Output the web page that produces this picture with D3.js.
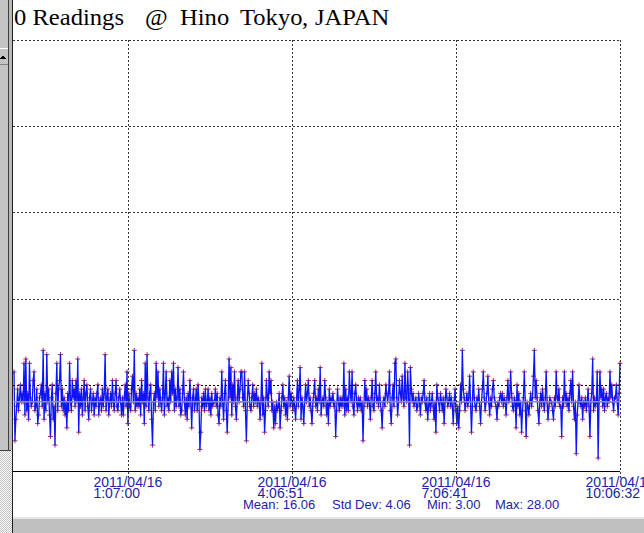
<!DOCTYPE html>
<html>
<head>
<meta charset="utf-8">
<script src="https://cdn.jsdelivr.net/npm/d3@7"></script>
<style>
  html, body { margin: 0; padding: 0; background: #ffffff; overflow: hidden; }
  svg { display: block; }
  .title text { font-family: "Liberation Serif", "Times New Roman", "DejaVu Serif", serif; font-size: 23px; fill: #000; }
  .axislab text, .stats text { font-family: "Liberation Sans", Arial, sans-serif; fill: #1e22a8; }
</style>
</head>
<body>
<svg id="chart" width="644" height="533"></svg>
<script>
// ---- data -------------------------------------------------------------
const titleParts = ["0 Readings", "@", "Hino", "Tokyo", ",", "JAPAN"];

// first reading time and logging interval (seconds)
const readingStart = "2011/04/15 23:02:07";
const readingIntervalSec = 59.948;

// counts per minute, one value per reading
const cpm = [
  23,7,12,15,19,14,17,20,16,18, 16,25,13,26,14,18,12,25,17,15,
  16,21,23,14,15,19,11,13,17,18, 20,15,28,12,18,14,27,16,19,13,
  8,17,20,12,15,6,18,25,14,19, 21,27,15,19,14,17,13,16,10,18,
  14,25,16,14,21,17,19,15,21,16, 26,9,18,15,19,13,17,21,14,18,
  20,15,12,17,19,14,16,18,13,17, 15,18,20,13,16,17,14,19,15,18,
  27,14,17,19,13,16,18,15,21,16, 14,18,21,15,14,17,19,16,13,17,
  13,17,20,15,23,11,18,15,14,19, 22,16,28,14,18,15,17,15,19,13,
  21,16,18,11,25,15,27,17,14,18, 20,12,6,16,18,14,25,17,23,15,
  19,16,14,17,25,13,18,23,15,17, 14,21,16,23,18,25,14,19,15,17,
  24,15,19,13,14,18,23,16,13,17, 12,18,15,21,16,10,17,19,14,16,
  19,14,20,16,5,9,17,15,18,14, 19,15,16,19,14,17,13,18,15,16,
  16,19,15,18,13,11,17,15,23,16, 12,18,21,14,9,16,26,17,24,13,
  20,16,23,15,12,17,21,16,19,23, 23,17,15,23,14,7,16,21,18,15,
  14,17,20,15,18,16,19,15,17,16, 12,16,25,13,17,9,14,21,17,15,
  23,18,21,14,16,10,15,11,16,14, 15,18,10,14,17,20,15,17,13,16,
  12,17,22,15,18,16,14,17,15,12, 16,21,15,19,24,12,17,15,11,16,
  20,16,18,21,15,17,14,11,16,18, 21,15,17,14,19,16,24,13,16,17,
  15,21,17,13,16,11,19,15,17,16, 18,15,16,8,14,19,16,14,17,15,
  17,15,25,13,19,14,17,14,23,18, 16,23,15,13,18,20,16,14,17,15,
  17,14,16,7,15,21,16,19,15,17, 16,12,17,21,15,14,18,23,16,17,
  15,20,16,14,10,16,17,15,20,18, 16,18,23,14,11,17,20,15,25,26,
  17,13,16,21,18,16,22,17,15,25, 17,16,23,18,6,24,19,16,18,15,
  16,17,14,15,18,16,13,17,16,18, 21,16,14,17,12,15,18,14,16,18,
  15,12,16,9,20,17,16,14,18,16, 14,17,11,16,19,17,15,16,18,15,
  17,15,11,16,19,14,11,15,10,14, 20,16,28,19,17,14,16,18,15,17,
  22,16,9,15,23,17,15,14,17,16, 19,15,11,16,19,23,17,14,16,18,
  22,16,13,17,15,19,21,17,16,15, 12,16,15,17,18,16,18,15,17,16,
  13,17,21,16,17,23,18,15,14,17, 16,10,20,15,18,13,16,9,14,17,
  23,16,8,16,15,13,16,18,15,17, 22,28,17,21,17,14,11,16,18,15,
  19,16,14,17,23,16,12,15,17,16, 16,14,12,17,15,23,17,16,19,15,
  15,8,17,15,23,16,18,15,17,14, 18,21,16,23,15,12,16,4,13,16,
  20,16,15,17,12,16,15,17,14,16, 19,15,8,16,18,26,14,17,15,16,
  23,3,16,23,17,19,15,19,14,17, 18,15,17,16,23,17,20,16,14,17,
  17,20,16,13,18,25
];

const tickDates = ["2011/04/16", "2011/04/16", "2011/04/16", "2011/04/16"];
const tickTimes = ["1:07:00", "4:06:51", "7:06:41", "10:06:32"];
const yTicks = [0, 20, 40, 60, 80, 100];

const statNames = ["Mean:", "Std Dev:", "Min:", "Max:"];
const statValues = [16.06, 4.06, 3.00, 28.00];

// ---- layout -----------------------------------------------------------
const svg = d3.select("#chart");
const W = 644, H = 533;
const plot = { left: 14, right: 620, top: 40, bottom: 471 };

const parse = d3.timeParse("%Y/%m/%d %H:%M:%S");
const t0 = parse(readingStart);
const timeAt = i => new Date(t0.getTime() + i * readingIntervalSec * 1000);
const readings = cpm.map((v, i) => ({ t: timeAt(i), v }));

const x = d3.scaleTime()
  .domain([readings[0].t, readings[readings.length - 1].t])
  .range([plot.left, plot.right]);
const y = d3.scaleLinear().domain([0, 100]).range([plot.bottom, plot.top]);

const ticks = tickDates.map((d, i) => ({ date: d, time: tickTimes[i], t: parse(d + " " + tickTimes[i]) }));

svg.append("rect").attr("width", W).attr("height", H).attr("fill", "#ffffff");

// ---- readings: markers first, trace on top ---------------------------------
svg.append("g")
  .selectAll("path")
  .data(readings)
  .join("path")
  .attr("d", d => {
    const px = x(d.t), py = y(d.v);
    return `M${px - 2.5},${py}h5M${px},${py - 2.5}v5`;
  })
  .attr("stroke", "#a52a62")
  .attr("stroke-width", 1);

const line = d3.line().x(d => x(d.t)).y(d => y(d.v));
svg.append("path")
  .datum(readings)
  .attr("d", line)
  .attr("fill", "none")
  .attr("stroke", "#0a14ff")
  .attr("stroke-width", 1.3);

// ---- mean line ------------------------------------------------------------
svg.append("line")
  .attr("x1", plot.left).attr("x2", plot.right)
  .attr("y1", y(statValues[0])).attr("y2", y(statValues[0]))
  .attr("stroke", "#8a93b3").attr("stroke-width", 1.6);

// ---- grid (drawn over the trace) -------------------------------------------
const grid = svg.append("g").attr("shape-rendering", "crispEdges");
grid.selectAll("line.h")
  .data(yTicks.filter(d => d > 0))
  .join("line")
  .attr("class", "h")
  .attr("x1", plot.left - 1).attr("x2", plot.right)
  .attr("y1", d => Math.round(y(d)) + 0.5).attr("y2", d => Math.round(y(d)) + 0.5)
  .attr("stroke", d => d === 20 ? "#000000" : "#333333")
  .attr("stroke-width", 1)
  .attr("stroke-dasharray", "2,2");

grid.selectAll("line.v")
  .data(ticks)
  .join("line")
  .attr("class", "v")
  .attr("x1", d => Math.round(x(d.t)) + 0.5).attr("x2", d => Math.round(x(d.t)) + 0.5)
  .attr("y1", plot.top).attr("y2", plot.bottom + 7)
  .attr("stroke", "#333333")
  .attr("stroke-dasharray", "2,2");

// ---- x axis ---------------------------------------------------------------
svg.append("line")
  .attr("x1", plot.left - 1).attr("x2", plot.right)
  .attr("y1", plot.bottom + 0.5).attr("y2", plot.bottom + 0.5)
  .attr("stroke", "#000000").attr("shape-rendering", "crispEdges");

const lab = svg.append("g").attr("class", "axislab").style("font-size", "14px");
ticks.forEach(d => {
  const tx = x(d.t);
  const g = lab.append("g");
  const first = g.append("text").attr("y", 487).text(d.date);
  const w = first.node().getComputedTextLength();
  first.attr("x", tx - w / 2);
  g.append("text").attr("x", tx - w / 2).attr("y", 497.5).text(d.time);
});

// summary statistics
const statX = [243, 332, 427, 495];
const stats = svg.append("g").attr("class", "stats").style("font-size", "13px");
statNames.forEach((n, i) => {
  stats.append("text").attr("x", statX[i]).attr("y", 508.5)
    .text(n + " " + statValues[i].toFixed(2));
});

// ---- title (slightly widened serif face) -----------------------------------
const titleX = [14, 145, 180, 240, 302, 315];
const title = svg.append("g").attr("class", "title");
titleParts.forEach((p, i) => {
  title.append("text")
    .attr("transform", `translate(${titleX[i]},25) scale(1.07,1)`)
    .text(p);
});

// ---- window frame: side pane and status strip ------------------------------
const defs = svg.append("defs");
const pat = defs.append("pattern").attr("id", "dither")
  .attr("width", 2).attr("height", 2).attr("patternUnits", "userSpaceOnUse");
pat.append("rect").attr("width", 2).attr("height", 2).attr("fill", "#ffffff");
pat.append("rect").attr("width", 1).attr("height", 1).attr("fill", "#c0c0c0");
pat.append("rect").attr("x", 1).attr("y", 1).attr("width", 1).attr("height", 1).attr("fill", "#c0c0c0");

const frame = svg.append("g").attr("shape-rendering", "crispEdges");
frame.append("rect").attr("x", 0).attr("y", 0).attr("width", 13).attr("height", H).attr("fill", "url(#dither)");
frame.append("rect").attr("x", 0).attr("y", 0).attr("width", 11).attr("height", 450).attr("fill", "#c4c4c4");
frame.append("line").attr("x1", 8.5).attr("x2", 8.5).attr("y1", 0).attr("y2", 450).attr("stroke", "#404040");
frame.append("rect").attr("x", 9).attr("y", 0).attr("width", 3).attr("height", 450).attr("fill", "#b8b8b8");
frame.append("line").attr("x1", 0).attr("x2", 11).attr("y1", 450.5).attr("y2", 450.5).attr("stroke", "#404040");
frame.append("line").attr("x1", 0).attr("x2", 8).attr("y1", 48.5).attr("y2", 48.5).attr("stroke", "#ffffff");
frame.append("line").attr("x1", 0).attr("x2", 8).attr("y1", 64.5).attr("y2", 64.5).attr("stroke", "#808080");
frame.append("path").attr("d", "M0,59L3,55L6,59Z").attr("fill", "#000000");
frame.append("line").attr("x1", 12.5).attr("x2", 12.5).attr("y1", 0).attr("y2", H).attr("stroke", "#202020");

frame.append("rect").attr("x", 13).attr("y", 517).attr("width", W - 13).attr("height", 2).attr("fill", "#e4e4e4");
frame.append("rect").attr("x", 13).attr("y", 519).attr("width", W - 13).attr("height", H - 519).attr("fill", "#c0c0c0");
</script>
</body>
</html>
